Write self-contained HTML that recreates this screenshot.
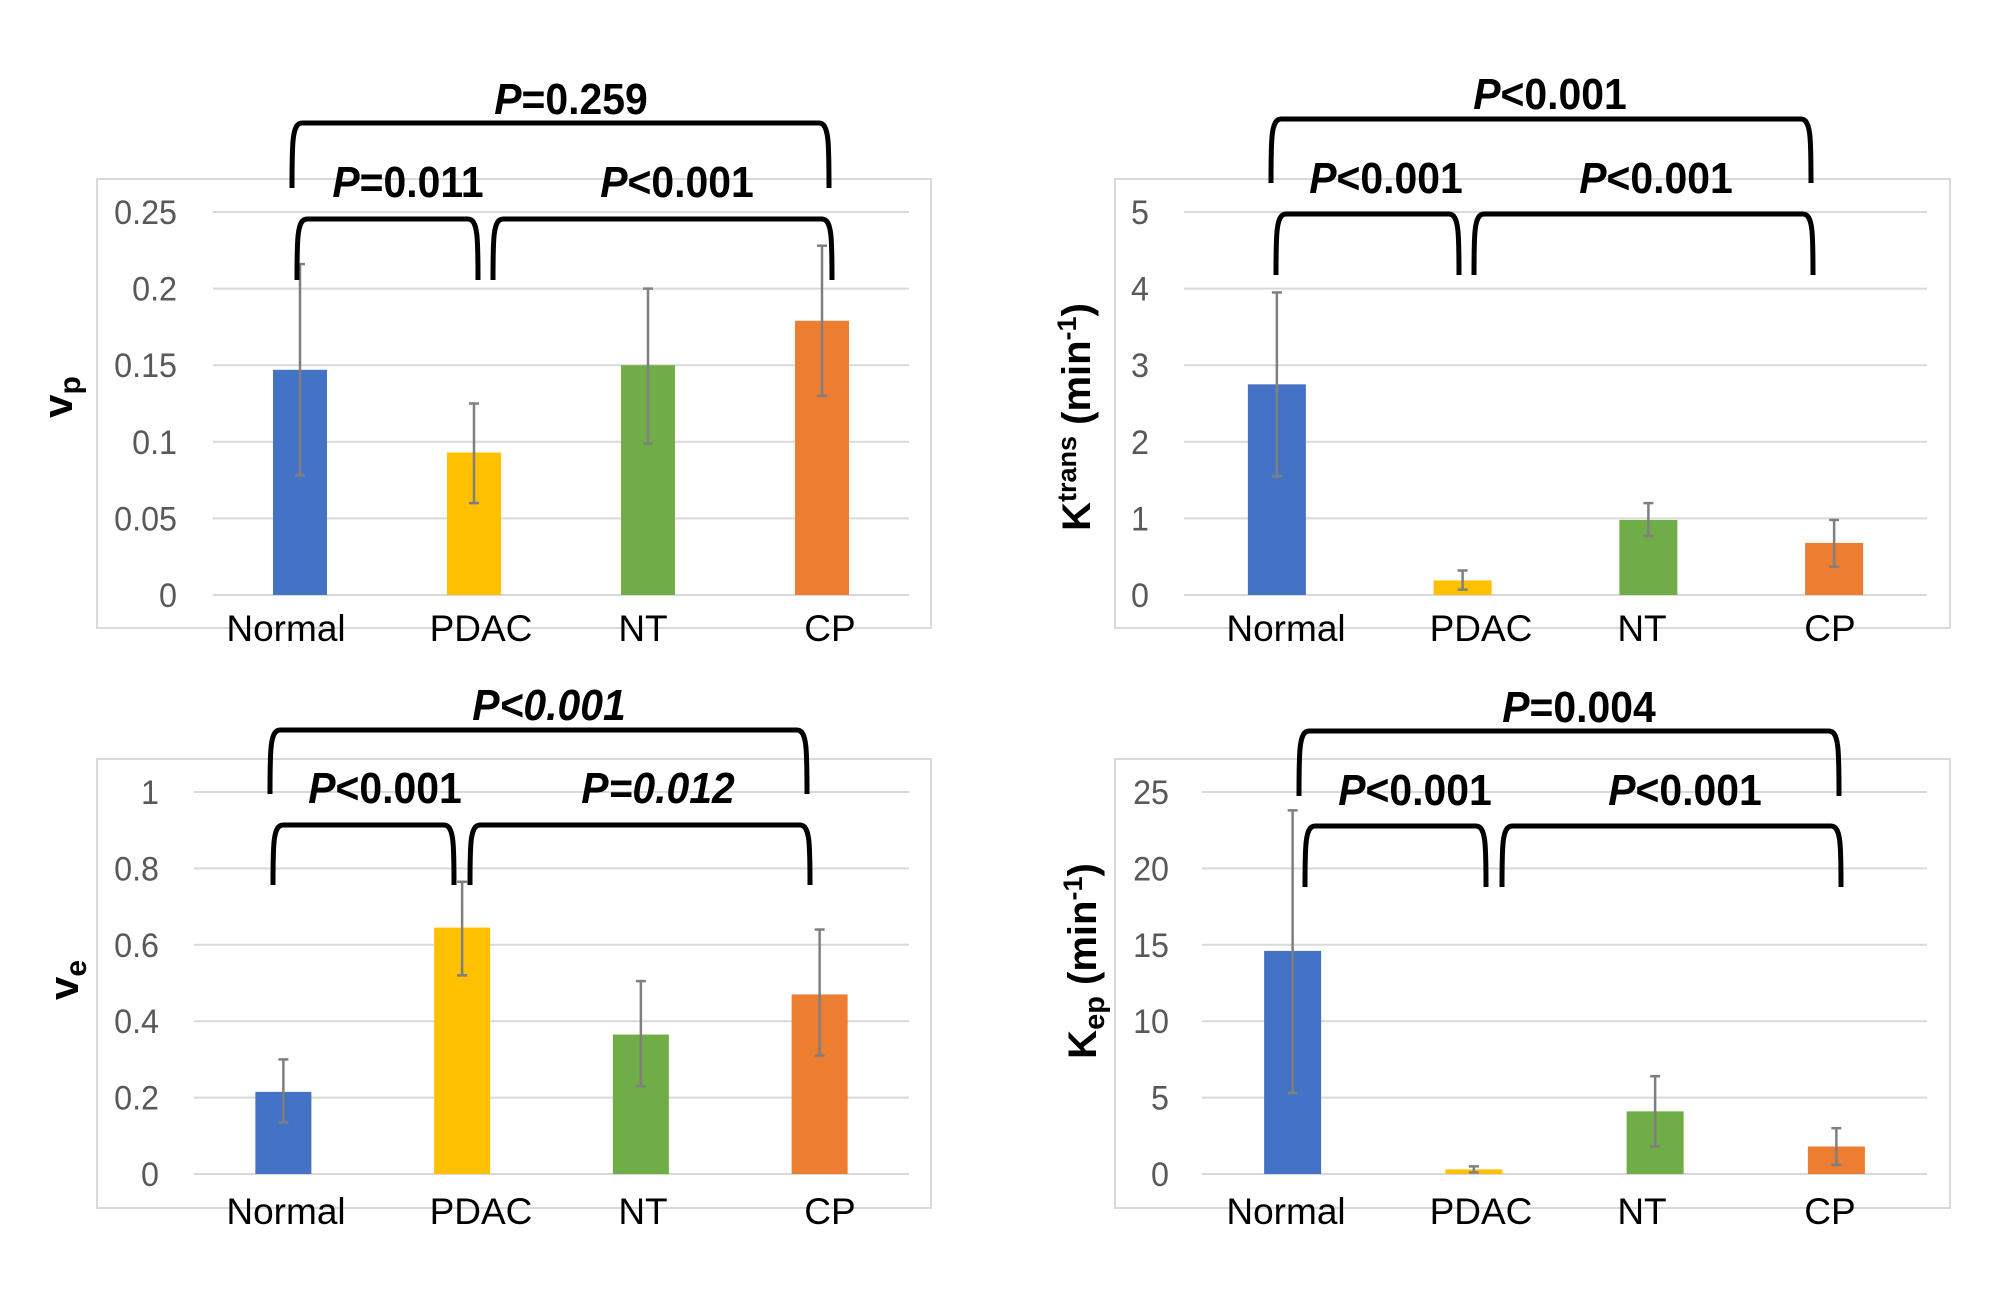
<!DOCTYPE html>
<html><head><meta charset="utf-8"><style>
html,body{margin:0;padding:0;background:#fff}
svg{display:block}
text{font-family:"Liberation Sans",Arial,sans-serif}
</style></head><body>
<svg id="fig" width="2002" height="1291" viewBox="0 0 2002 1291" xmlns="http://www.w3.org/2000/svg"></svg>
<script>
const categories = ["Normal","PDAC","NT","CP"];
const colors = ["#4472c4","#ffc000","#70ad47","#ed7d31"];
// panel A: vp
const vpValues = [0.147,0.093,0.150,0.179];
const vpLow = [0.078,0.060,0.099,0.130];
const vpHigh = [0.216,0.125,0.200,0.228];
const vpTicks = ["0","0.05","0.1","0.15","0.2","0.25"];
// panel B: Ktrans
const ktValues = [2.75,0.19,0.98,0.68];
const ktLow = [1.55,0.07,0.77,0.37];
const ktHigh = [3.95,0.32,1.20,0.98];
const ktTicks = ["0","1","2","3","4","5"];
// panel C: ve
const veValues = [0.215,0.645,0.365,0.470];
const veLow = [0.135,0.520,0.230,0.310];
const veHigh = [0.300,0.765,0.505,0.640];
const veTicks = ["0","0.2","0.4","0.6","0.8","1"];
// panel D: Kep
const kepValues = [14.6,0.3,4.1,1.8];
const kepLow = [5.3,0.1,1.8,0.6];
const kepHigh = [23.8,0.5,6.4,3.0];
const kepTicks = ["0","5","10","15","20","25"];
// p-value labels
const vpP = ["=0.259","=0.011","<0.001"];
const ktP = ["<0.001","<0.001","<0.001"];
const veP = ["<0.001","<0.001","=0.012"];
const kepP = ["=0.004","<0.001","<0.001"];

const NS="http://www.w3.org/2000/svg";
const svg=document.getElementById('fig');
function mk(tag,attrs,parent){const e=document.createElementNS(NS,tag);for(const k in attrs)e.setAttribute(k,attrs[k]);(parent||svg).appendChild(e);return e;}

function panel(o){
  const g=mk('g',{});
  
  
  const fr=mk('rect',{x:o.fx0,y:o.fy0,width:o.fx1-o.fx0,height:o.fy1-o.fy0,fill:'none',stroke:'#d9d9d9','stroke-width':2},g);
  
  
  const vmax=parseFloat(o.ticks[o.ticks.length-1]);
  const y=v=>o.gy0-(v/vmax)*(o.gy0-o.gy1);
  const band=(o.px1-o.px0)/categories.length;
  const xc=i=>o.px0+band*(i+0.5);
  o.ticks.forEach((t,i)=>{
    const v=parseFloat(t), yy=y(v);
    const l=mk('line',{x1:o.px0,x2:o.px1,y1:yy,y2:yy,stroke:'#d9d9d9','stroke-width':2},g);
    
    
    const tx=mk('text',{transform:`translate(${o.tickR},${yy+12}) scale(0.95,1)`,'text-anchor':'end','font-size':34,fill:'#595959'},g);
    tx.textContent=t;
    
    
  });
  categories.forEach((c,i)=>{
    const bx=xc(i)-o.bw/2;
    const r=mk('rect',{x:bx,y:y(o.vals[i]),width:o.bw,height:y(0)-y(o.vals[i]),fill:colors[i]},g);
    
    
    const eg=mk('g',{stroke:'#7f7f7f','stroke-width':2.5},g);
    
    
    mk('line',{x1:xc(i),x2:xc(i),y1:y(o.lo[i]),y2:y(o.hi[i])},eg);
    mk('line',{x1:xc(i)-5,x2:xc(i)+5,y1:y(o.lo[i]),y2:y(o.lo[i])},eg);
    mk('line',{x1:xc(i)-5,x2:xc(i)+5,y1:y(o.hi[i]),y2:y(o.hi[i])},eg);
    const tl=mk('text',{x:o.labX[i],y:o.catY,'text-anchor':'middle','font-size':37,fill:'#000'},g);
    tl.textContent=c;
    
    
  });
  const yt=mk('text',{transform:`translate(${o.ytx},${o.yty}) rotate(-90)`,'text-anchor':'middle','font-size':o.ytf||38,'font-weight':'bold',fill:'#000'},g);
  yt.innerHTML=o.ytitle;
  
  
  o.brackets.forEach((b,k)=>{
    const [x1,x2,h,leg]=b;
    const p=mk('path',{d:`M${x1} ${leg} C${x1} ${h+20} ${x1} ${h} ${x1+10} ${h} L${x2-10} ${h} C${x2} ${h} ${x2} ${h+20} ${x2} ${leg}`,fill:'none',stroke:'#000','stroke-width':5},g);
    
    
    const [lx,ly]=o.labels[k];
    const it=o.allItalic&&o.allItalic[k];
    const t=mk('text',{transform:`translate(${lx},${ly+15}) scale(0.93,1)`,'text-anchor':'middle','font-size':44,'font-weight':'bold',fill:'#000'},g);
    t.innerHTML=`<tspan font-style="italic">P</tspan><tspan${it?' font-style="italic"':''}>${o.p[k]}</tspan>`;
    
    
  });
}

const leftLab=[286,481,643,830], rightLab=[1286,1481,1642,1830];
panel({name:'vp-chart',fx0:97,fx1:931,fy0:179,fy1:628,px0:213,px1:909,gy0:595,gy1:212,tickR:177,bw:54,catY:641,labX:leftLab,
  ticks:vpTicks,vals:vpValues,lo:vpLow,hi:vpHigh,ytx:72,yty:397,ytf:42,
  ytitle:'v<tspan font-size="30" dy="8">p</tspan>',p:vpP,
  brackets:[[292,829,123,188],[297,478,219,280],[493,832,219,280]],
  labels:[[571,99],[408,182],[677,182]]});
panel({name:'ktrans-chart',fx0:1115,fx1:1950,fy0:179,fy1:628,px0:1184,px1:1927,gy0:595,gy1:212,tickR:1149,bw:58,catY:641,labX:rightLab,
  ticks:ktTicks,vals:ktValues,lo:ktLow,hi:ktHigh,ytx:1090,yty:417,ytf:40,
  ytitle:'K<tspan font-size="27" dy="-14">trans</tspan><tspan dy="14"> (min</tspan><tspan font-size="27" dy="-14">-1</tspan><tspan dy="14">)</tspan>',p:ktP,
  brackets:[[1271,1811,119,183],[1276,1459,214,275],[1474,1813,214,275]],
  labels:[[1550,94],[1386,178],[1656,178]]});
panel({name:'ve-chart',fx0:97,fx1:931,fy0:759,fy1:1208,px0:194,px1:909,gy0:1174,gy1:792,tickR:159,bw:56,catY:1224,labX:leftLab,
  ticks:veTicks,vals:veValues,lo:veLow,hi:veHigh,ytx:78,yty:980,ytf:42,
  ytitle:'v<tspan font-size="30" dy="8">e</tspan>',p:veP,allItalic:[true,false,true],
  brackets:[[270,807,730,794],[273,454,825,885],[470,810,825,885]],
  labels:[[549,705],[385,788],[658,788]]});
panel({name:'kep-chart',fx0:1115,fx1:1950,fy0:759,fy1:1208,px0:1202,px1:1927,gy0:1174,gy1:792,tickR:1169,bw:57,catY:1224,labX:rightLab,
  ticks:kepTicks,vals:kepValues,lo:kepLow,hi:kepHigh,ytx:1096,yty:961,ytf:40,
  ytitle:'K<tspan font-size="29" dy="8">ep</tspan><tspan dy="-8"> (min</tspan><tspan font-size="27" dy="-14">-1</tspan><tspan dy="14">)</tspan>',p:kepP,
  brackets:[[1299,1839,731,796],[1305,1486,826,887],[1502,1841,826,887]],
  labels:[[1579,707],[1415,790],[1685,790]]});
</script>
</body></html>
